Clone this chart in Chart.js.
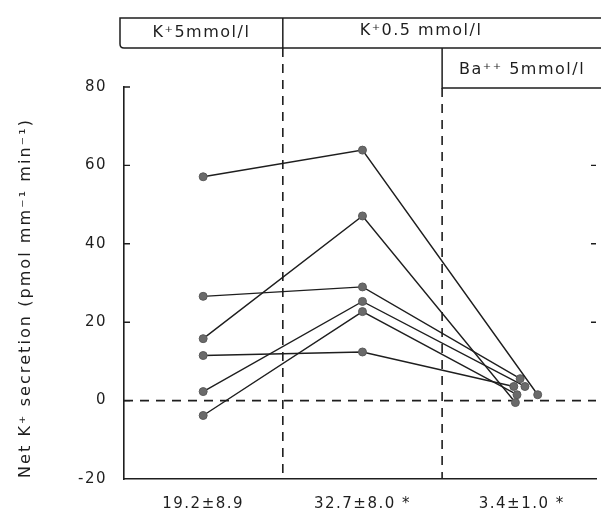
<!DOCTYPE html>
<html>
<head>
<meta charset="utf-8">
<script src="https://cdn.jsdelivr.net/npm/chart.js@4/dist/chart.umd.min.js"></script>
<style>
  html, body { margin: 0; padding: 0; background: #fff; overflow: hidden; }
  #wrap { width: 601px; height: 532px; position: relative; }
</style>
</head>
<body>
<div id="wrap"><canvas id="chart"></canvas></div>
<script>
// condition headers and bottom summary labels (mean ± SEM)
const conditionLabels = ['K\u207A5mmol/l', 'K\u207A0.5 mmol/l', 'Ba\u207A\u207A 5mmol/l'];
const statLabels = ['19.2\u00B18.9', '32.7\u00B18.0 *', '3.4\u00B11.0 *'];
const yTitle = 'Net K\u207A secretion (pmol mm\u207B\u00B9 min\u207B\u00B9)';

// net K+ secretion per tubule
const k5Values  = [57.1, 15.8, 26.6, 2.3, -3.8, 11.5];
const k05Values = [63.9, 47.1, 29.0, 25.3, 22.7, 12.4];
const baValues  = [1.5, -0.5, 5.6, 3.6, 1.5, 3.6];
// Ba points are spread a bit around the third condition in the original
const baX       = [3.10, 2.96, 2.99, 3.02, 2.97, 2.95];

const yTicks = [-20, 0, 20, 40, 60, 80];
const ink = '#1e1e1e';
const fontFam = '"DejaVu Sans", "Liberation Sans", sans-serif';

const datasets = k5Values.map((v, i) => ({
  data: [
    { x: 1, y: v },
    { x: 2, y: k05Values[i] },
    { x: baX[i], y: baValues[i] }
  ],
  borderColor: ink,
  borderWidth: 1.4,
  pointRadius: 4,
  pointBackgroundColor: '#6a6a6a',
  pointBorderColor: '#5a5a5a',
  pointBorderWidth: 1,
  showLine: true,
  tension: 0
}));

// header boxes, dashed dividers, zero line, inward ticks and y title
const decorations = {
  id: 'decorations',
  beforeDraw(chart) {
    // the scanned lettering is loosely spaced
    chart.ctx.letterSpacing = '1.5px';
  },
  beforeDatasetsDraw(chart) {
    const { ctx, chartArea: a, scales: { x, y } } = chart;
    const d1 = x.getPixelForValue(1.5);
    const d2 = x.getPixelForValue(2.5);
    const y0 = y.getPixelForValue(0);
    ctx.save();
    ctx.strokeStyle = ink;
    ctx.lineWidth = 1.6;
    ctx.setLineDash([9, 7]);
    ctx.beginPath();
    ctx.moveTo(a.left, y0); ctx.lineTo(a.right, y0);
    ctx.moveTo(d1, 48); ctx.lineTo(d1, a.bottom);
    ctx.moveTo(d2, 88); ctx.lineTo(d2, a.bottom);
    ctx.stroke();
    ctx.setLineDash([]);

    // inward ticks on the left axis, mirror ticks on the right
    ctx.lineWidth = 1.4;
    ctx.beginPath();
    yTicks.forEach(t => {
      if (t === -20) return;
      const py = y.getPixelForValue(t);
      ctx.moveTo(a.left, py); ctx.lineTo(a.left + 6, py);
      if (t > 0 && t < 80) { ctx.moveTo(a.right - 5, py); ctx.lineTo(a.right, py); }
    });
    ctx.stroke();
    ctx.restore();
  },
  afterDraw(chart) {
    const { ctx, scales: { x } } = chart;
    const d1 = x.getPixelForValue(1.5);
    const d2 = x.getPixelForValue(2.5);
    const left = 120, top = 18, mid = 48, low = 88, right = chart.width + 2;
    ctx.save();
    ctx.strokeStyle = ink;
    ctx.lineWidth = 1.5;
    ctx.beginPath();
    ctx.moveTo(right, top);
    ctx.lineTo(left, top);
    ctx.lineTo(left, mid - 4);
    ctx.quadraticCurveTo(left, mid, left + 4, mid);
    ctx.lineTo(right, mid);
    ctx.moveTo(d1, top); ctx.lineTo(d1, mid);
    ctx.moveTo(d2, mid); ctx.lineTo(d2, low);
    ctx.lineTo(right, low);
    ctx.stroke();

    ctx.fillStyle = ink;
    ctx.font = '16px ' + fontFam;
    ctx.letterSpacing = '1.5px';
    ctx.textAlign = 'center';
    ctx.textBaseline = 'middle';
    ctx.fillText(conditionLabels[0], (left + d1) / 2, 33);
    ctx.fillText(conditionLabels[1], 421, 31);
    ctx.fillText(conditionLabels[2], 522, 70);

    // rotated axis title, stretched like the original lettering
    ctx.letterSpacing = '0px';
    const w = ctx.measureText(yTitle).width;
    const span = 360;
    ctx.letterSpacing = Math.max(0, (span - w) / yTitle.length).toFixed(2) + 'px';
    ctx.translate(26, 298);
    ctx.rotate(-Math.PI / 2);
    ctx.fillText(yTitle, 0, 0);
    ctx.restore();
    ctx.letterSpacing = '0px';
  }
};

new Chart(document.getElementById('chart'), {
  type: 'scatter',
  data: { datasets },
  options: {
    responsive: true,
    maintainAspectRatio: false,
    animation: false,
    layout: { padding: { top: 87, right: 0, left: 0, bottom: 0 } },
    plugins: { legend: { display: false }, tooltip: { enabled: false } },
    scales: {
      x: {
        type: 'linear',
        min: 0.503,
        max: 3.466,
        afterBuildTicks: s => { s.ticks = [1, 2, 3].map(v => ({ value: v })); },
        afterFit: s => { s.height = 53; },
        ticks: {
          padding: 16,
          color: ink,
          font: { family: fontFam, size: 15 },
          callback: (v, i) => statLabels[i]
        },
        grid: { display: false, drawTicks: false },
        border: { display: true, color: ink, width: 1.6 }
      },
      y: {
        min: -20,
        max: 80,
        afterBuildTicks: s => { s.ticks = yTicks.map(v => ({ value: v })); },
        afterFit: s => { s.width = 124; },
        ticks: {
          padding: 17,
          color: ink,
          font: { family: fontFam, size: 15 }
        },
        grid: { display: false, drawTicks: false },
        border: { display: true, color: ink, width: 1.6 }
      }
    }
  },
  plugins: [decorations]
});
</script>
</body>
</html>
